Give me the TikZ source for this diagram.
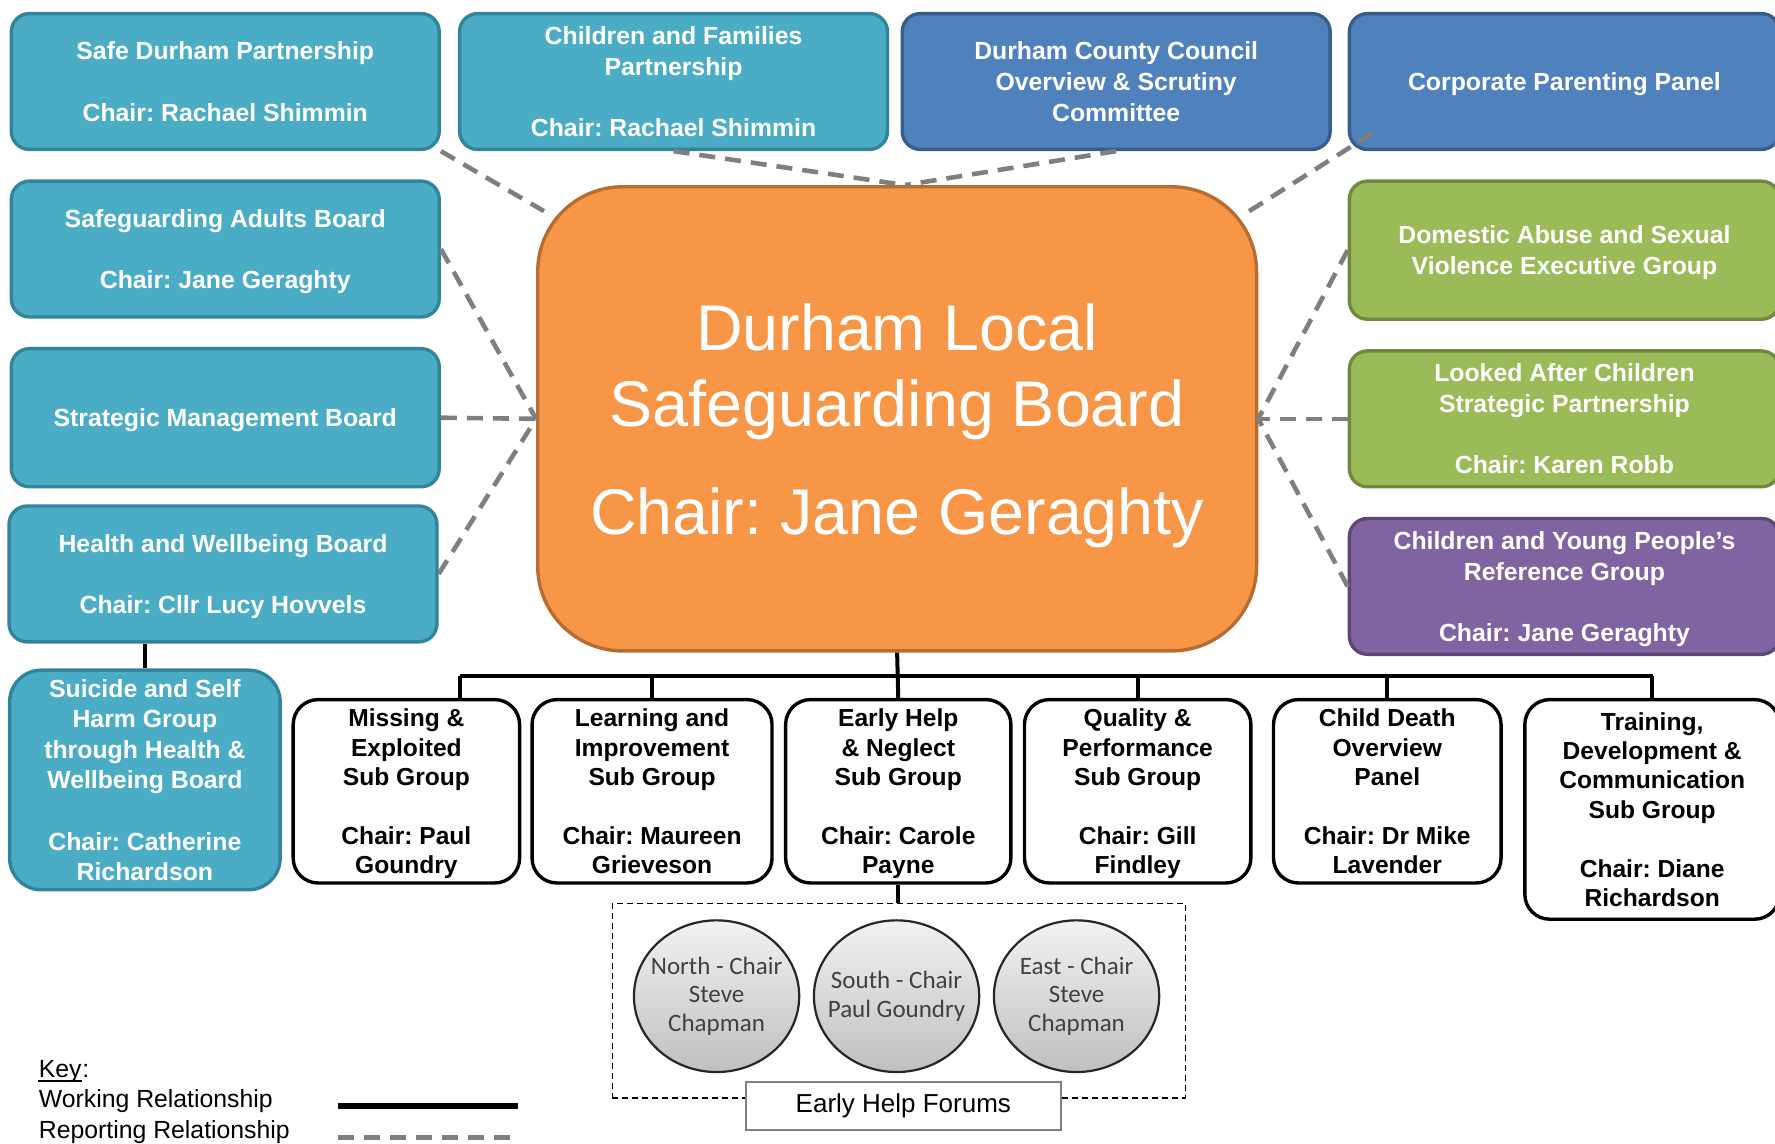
\documentclass[tikz,border=0pt]{standalone}
\usepackage{fontspec}
\setmainfont{Liberation Sans}
\newfontfamily\calfont{Carlito}
\usetikzlibrary{shapes.geometric,calc}
\frenchspacing
\def\upx{0.566pt}
\newcommand\boxfont{\bfseries\fontsize{12.4}{15.3}\selectfont}
\newcommand\subfont{\bfseries\fontsize{12.3}{14.7}\selectfont}
\definecolor{tealF}{HTML}{4BACC6}
\definecolor{tealD}{HTML}{31849B}
\definecolor{blueF}{HTML}{4F81BD}
\definecolor{blueD}{HTML}{385D8A}
\definecolor{greenF}{HTML}{9BBB59}
\definecolor{greenD}{HTML}{71893F}
\definecolor{purpF}{HTML}{8064A2}
\definecolor{purpD}{HTML}{5C4776}
\definecolor{orF}{HTML}{F79646}
\definecolor{orD}{HTML}{B66D31}
\definecolor{repgray}{HTML}{7F7F7F}
\definecolor{circtext}{HTML}{404040}
\tikzset{
  sz/.style 2 args={minimum width=#1*\upx, minimum height=#2*\upx},
  box/.style={rectangle, rounded corners=16*\upx, line width=1.7pt, inner sep=0pt,
    align=center, text=white, font=\boxfont, text depth=0pt},
  tealb/.style={box, fill=tealF, draw=tealD},
  blueb/.style={box, fill=blueF, draw=blueD},
  greenb/.style={box, fill=greenF, draw=greenD},
  purpleb/.style={box, fill=purpF, draw=purpD},
  orangeb/.style={box, fill=orF, draw=orD, rounded corners=75*\upx,
    font=\fontsize{32.3}{37.9}\selectfont},
  subb/.style={rectangle, rounded corners=22*\upx, line width=1.7pt, draw=black,
    fill=white, inner sep=0pt, align=center, text=black, font=\subfont, text depth=0pt},
  forum/.style={ellipse, draw=black!85, line width=1.1pt, top color=black!5,
    bottom color=black!25, inner sep=0pt},
  forumtext/.style={inner sep=0pt, align=center, text=circtext,
    font=\calfont\fontsize{12.5}{14.4}\selectfont},
  rep/.style={draw=repgray, line width=2.3pt, dash pattern=on 8pt off 5pt},
  work/.style={draw=black, line width=2pt},
  keytext/.style={inner sep=0pt, anchor=base west, font=\fontsize{12.4}{15.3}\selectfont},
}
\begin{document}
\begin{tikzpicture}[x=0.566pt, y=-0.566pt]
\useasboundingbox (0,0) rectangle (1568,1010);

% top row
\node[tealb, sz={378}{120}] (sdp) at (199,72) {Safe Durham Partnership\\[15.3pt]Chair: Rachael Shimmin};
\node[tealb, sz={378}{120}] (cfp) at (595,72) {Children and Families\\Partnership\\[15.3pt]Chair: Rachael Shimmin};
\node[blueb, sz={378}{120}] (dcc) at (986,72) {Durham County Council\\Overview \& Scrutiny\\Committee};
\node[blueb, sz={380}{120}] (cpp) at (1382,72) {Corporate Parenting Panel};

% left column
\node[tealb, sz={378}{120}] (sab) at (199,220) {Safeguarding Adults Board\\[15.3pt]Chair: Jane Geraghty};
\node[tealb, sz={378}{122}] (smb) at (199,369) {Strategic Management Board};
\node[tealb, sz={378}{120}] (hwb) at (197,507) {Health and Wellbeing Board\\[15.3pt]Chair: Cllr Lucy Hovvels};
\node[tealb, sz={239}{194}, rounded corners=28*\upx] (ssh) at (128,689) {Suicide and Self\\Harm Group\\through Health \&\\Wellbeing Board\\[15.3pt]Chair: Catherine\\Richardson};

% centre
\node[orangeb, sz={635}{410}] (dlsb) at (792.5,370) {Durham Local\\Safeguarding Board\\[16pt]Chair: Jane Geraghty};

% right column
\node[greenb, sz={380}{122}] (dasv) at (1382,221) {Domestic Abuse and Sexual\\Violence Executive Group};
\node[greenb, sz={380}{120}] (lac) at (1382,370) {Looked After Children\\Strategic Partnership\\[15.3pt]Chair: Karen Robb};
\node[purpleb, sz={380}{120}] (cyp) at (1382,518) {Children and Young People’s\\Reference Group\\[15.3pt]Chair: Jane Geraghty};

% sub groups
\node[subb, sz={200}{162}] (mes) at (359,699) {Missing \&\\Exploited\\Sub Group\\[14.7pt]Chair: Paul\\Goundry};
\node[subb, sz={212}{162}] (lis) at (576,699) {Learning and\\Improvement\\Sub Group\\[14.7pt]Chair: Maureen\\Grieveson};
\node[subb, sz={199}{162}] (ehn) at (793.5,699) {Early Help\\\& Neglect\\Sub Group\\[14.7pt]Chair: Carole\\Payne};
\node[subb, sz={200}{162}] (qps) at (1005,699) {Quality \&\\Performance\\Sub Group\\[14.7pt]Chair: Gill\\Findley};
\node[subb, sz={201}{162}] (cdop) at (1225.5,699) {Child Death\\Overview\\Panel\\[14.7pt]Chair: Dr Mike\\Lavender};
\node[subb, sz={225}{194}] (tdc) at (1459.5,715) {Training,\\Development \&\\Communication\\Sub Group\\[14.7pt]Chair: Diane\\Richardson};

% early help forums
\node[draw=black, line width=0.6pt, dash pattern=on 3pt off 2pt, inner sep=0pt, sz={506}{172}] (forums) at (794,884) {};
\node[forum, sz={146}{134}] (north) at (633,880) {};
\node[forum, sz={146}{134}] (south) at (792,880) {};
\node[forum, sz={146}{134}] (east) at (951,880) {};
\node[forumtext] (northt) at (north.center) {North - Chair\\Steve\\Chapman};
\node[forumtext] (southt) at (south.center) {South - Chair\\Paul Goundry};
\node[forumtext] (eastt) at (east.center) {East - Chair\\Steve\\Chapman};
\node[draw=repgray, line width=1.2pt, fill=white, inner sep=0pt, sz={278}{42},
  font=\fontsize{13}{15}\selectfont] (ehl) at (798,977) {Early Help Forums};

% working relationships (tree)
\coordinate (busL) at (406,597);
\coordinate (busR) at (1460,597);
\draw[work] (dlsb.south) -- (ehn.north);
\draw[work] (busL) -- (busR);
\draw[work] (busL) -- (busL |- mes.north);
\draw[work] (lis.north |- busL) -- (lis.north);
\draw[work] (qps.north |- busL) -- (qps.north);
\draw[work] (cdop.north |- busL) -- (cdop.north);
\draw[work] (tdc.north |- busL) -- (tdc.north);
\draw[work] (ehn.south) -- (ehn.south |- forums.north);
\draw[work] (ssh.north |- hwb.south) -- (ssh.north);

% reporting relationships
\draw[rep] (sdp.south east) -- ($(dlsb.north west)+(7,23)$);
\draw[rep] (cfp.south) -- ($(dlsb.north)+(7,0)$);
\draw[rep] (dcc.south) -- ($(dlsb.north)+(7,0)$);
\draw[rep] ($(dlsb.north east)+(-8,23)$) -- ($(cpp.south west)+(30,-21)$);
\draw[rep] (sab.east) -- (dlsb.west);
\draw[rep] (smb.east) -- (dlsb.west);
\draw[rep] (hwb.east) -- (dlsb.west);
\draw[rep] (dasv.west) -- (dlsb.east);
\draw[rep] (lac.west) -- (dlsb.east);
\draw[rep] (cyp.west) -- (dlsb.east);

% key
\node[keytext] (key) at (34,952) {Key};
\node[keytext] (keyc) at (key.base east) {:};
\draw[line width=0.7pt] ($(key.base west)+(0,3)$) -- ($(key.base east)+(0,3)$);
\node[keytext] (kw) at (34,978) {Working Relationship};
\node[keytext] (kr) at (34,1006) {Reporting Relationship};
\coordinate (kwa) at (299,977);
\coordinate (kwb) at (458,977);
\coordinate (kra) at (299,1005);
\coordinate (krb) at (458,1005);
\draw[draw=black, line width=2.8pt] (kwa) -- (kwb);
\draw[rep] (kra) -- (krb);
\end{tikzpicture}
\end{document}
